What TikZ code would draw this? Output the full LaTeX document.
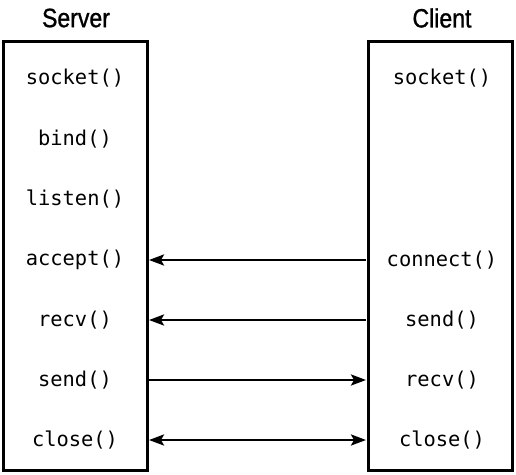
\documentclass[tikz,border=0pt]{standalone}
\usepackage{fontspec}
\setmonofont{DejaVu Sans Mono}
\newfontfamily\titlefont[FakeStretch=0.87,FakeBold=1]{Liberation Sans}
\usetikzlibrary{arrows.meta}
\begin{document}
\begin{tikzpicture}[x=1pt,y=-1pt,
  box/.style={draw,line width=3pt},
  fn/.style={font=\ttfamily\fontsize{20.4}{20.4}\selectfont,inner sep=0pt},
  ttl/.style={font=\titlefont\fontsize{26.5}{26.5}\selectfont,inner sep=0pt},
  tip/.tip={Stealth[length=15pt,width=11pt,inset=3pt]},
  msg/.style={line width=2.5pt,-tip},
  msgb/.style={line width=2.5pt,tip-tip}]
\useasboundingbox (0,0) rectangle (516,474);
\draw[box] (3,41) rectangle (147,470);
\draw[box] (368,41) rectangle (512,470);
\node[ttl] at (76,18) {Server};
\node[ttl] at (442,18) {Client};
\foreach \n/\t/\y in {s1/socket()/78,s2/bind()/139,s3/listen()/199,s4/accept()/260,s5/recv()/320,s6/send()/380,s7/close()/440}
  \node[fn] (\n) at (75,\y) {\t};
\foreach \n/\t/\y in {c1/socket()/78,c4/connect()/260,c5/send()/320,c6/recv()/380,c7/close()/440}
  \node[fn] (\n) at (442,\y) {\t};
\coordinate (L4) at (149,260); \coordinate (R4) at (366,260);
\coordinate (L5) at (149,320); \coordinate (R5) at (366,320);
\coordinate (L6) at (149,380); \coordinate (R6) at (366,380);
\coordinate (L7) at (149,440); \coordinate (R7) at (366,440);
\draw[msg] (R4) -- (L4);
\draw[msg] (R5) -- (L5);
\draw[msg] (L6) -- (R6);
\draw[msgb] (L7) -- (R7);
\end{tikzpicture}
\end{document}
